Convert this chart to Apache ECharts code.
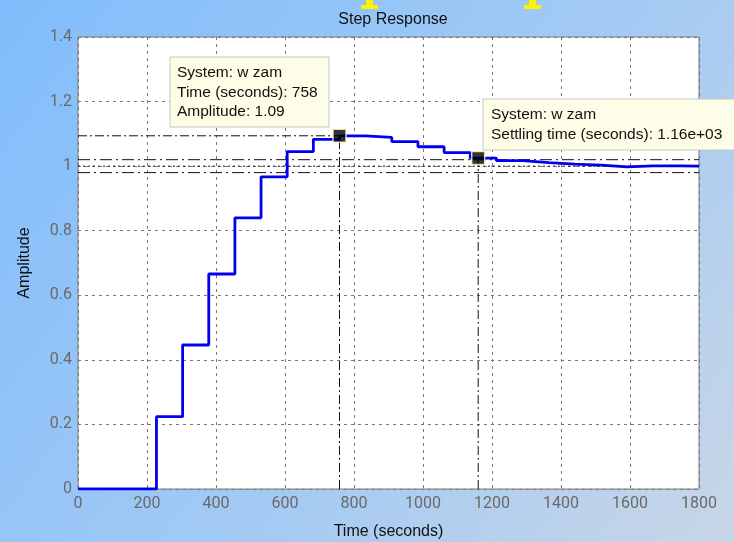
<!DOCTYPE html>
<html>
<head>
<meta charset="utf-8">
<script src="https://cdn.jsdelivr.net/npm/echarts@6/dist/echarts.min.js"></script>
<style>
  html, body { margin: 0; padding: 0; }
  #main { width: 734px; height: 542px; }
</style>
</head>
<body>
<div id="main"></div>
<script type="text/javascript">
    // 采样时刻 (s) 和阶跃响应幅值
    var timeSec = [0, 75.8, 151.6, 227.4, 303.2, 379, 454.8, 530.6, 606.4, 682.2, 758, 833.8,
        909.6, 985.4, 1061.2, 1137, 1212.8, 1288.6, 1364.4, 1440.2, 1516, 1591.8, 1667.6, 1743.4, 1800];
    var amplitude = [0, 0, 0, 0.224, 0.446, 0.666, 0.840, 0.967, 1.045, 1.083, 1.094, 1.089,
        1.076, 1.060, 1.042, 1.025, 1.017, 1.011, 1.006, 1.003, 0.998, 1.001, 1.001, 1.000, 1.000];

    var xTicks = [0, 200, 400, 600, 800, 1000, 1200, 1400, 1600, 1800];
    var yTicks = [0, 0.2, 0.4, 0.6, 0.8, 1, 1.2, 1.4];

    // 峰值点 / 调节时间点
    var peakTime = 758, peakAmp = 1.094;
    var settleTime = 1160, settleAmp = 1.025;
    var finalValue = 1.0, settleUpper = 1.02, settleLower = 0.98;

    var stepData = timeSec.map(function (t, i) { return [t, amplitude[i]]; });

    var dashDot = [9, 3, 2, 3];
    function refLine(points, type) {
        return {
            type: 'line', data: points, symbol: 'none', silent: true,
            lineStyle: { color: '#111', width: 1, type: type }, z: 3
        };
    }

    var myChart = echarts.init(document.getElementById('main'));

    var option = {
        animation: false,
        backgroundColor: new echarts.graphic.LinearGradient(0, 0, 1, 1, [
            { offset: 0, color: '#80bdfc' },
            { offset: 0.6, color: '#a6cbf3' },
            { offset: 1, color: '#c9d6e6' }
        ]),
        title: {
            text: 'Step Response',
            left: 388, top: 7, textAlign: 'center',
            textStyle: { fontFamily: 'Liberation Sans', fontSize: 16, fontWeight: 'normal', color: '#111' }
        },
        grid: {
            left: 78, right: 35, top: 37, bottom: 53,
            outerBoundsMode: 'none',
            show: true, backgroundColor: '#fff', borderColor: '#7a7a7a', borderWidth: 1
        },
        xAxis: {
            type: 'value', min: 0, max: 1800, interval: 200,
            name: 'Time (seconds)', nameLocation: 'middle', nameGap: 35,
            nameTextStyle: { fontFamily: 'Liberation Sans', fontSize: 16, color: '#111' },
            axisLine: { show: false },
            axisTick: { show: false },
            axisLabel: {
                margin: 7, fontFamily: 'Roboto', fontSize: 16, color: '#6a6a6a',
                formatter: function (v) { return xTicks.indexOf(v) >= 0 ? String(v) : ''; }
            },
            splitLine: { show: true, lineStyle: { color: '#777', width: 1, type: [3, 4] } }
        },
        yAxis: {
            type: 'value', min: 0, max: 1.4, interval: 0.2,
            name: 'Amplitude', nameLocation: 'middle', nameGap: 45, nameRotate: 90,
            nameTextStyle: { fontFamily: 'Liberation Sans', fontSize: 16, color: '#111' },
            axisLine: { show: false },
            axisTick: { show: false },
            axisLabel: {
                margin: 6, fontFamily: 'Roboto', fontSize: 16, color: '#6a6a6a',
                formatter: function (v) {
                    var r = Math.round(v * 10) / 10;
                    return yTicks.indexOf(r) >= 0 ? String(r) : '';
                }
            },
            splitLine: { show: true, lineStyle: { color: '#777', width: 1, type: [3, 4] } }
        },
        series: [
            refLine([[0, settleUpper], [1800, settleUpper]], [12, 4, 2, 4]),
            refLine([[0, finalValue], [1800, finalValue]], [2, 3]),
            refLine([[0, settleLower], [1800, settleLower]], [12, 4, 2, 4]),
            refLine([[0, peakAmp], [peakTime, peakAmp]], dashDot),
            refLine([[peakTime, 0], [peakTime, peakAmp]], dashDot),
            refLine([[settleTime, 0], [settleTime, settleAmp]], dashDot),
            {
                name: 'wzam', type: 'line', step: 'end', data: stepData,
                symbol: 'none', lineStyle: { color: '#0000ee', width: 2.8 }, z: 5
            },
            {
                type: 'scatter', symbol: 'rect', symbolSize: 13, z: 6,
                itemStyle: { color: '#000', borderColor: '#fffbd0', borderWidth: 1.5 },
                data: [[peakTime, peakAmp], [settleTime, settleAmp]]
            }
        ],
        graphic: [
            // 顶部被截掉的黄色字母残影
            { type: 'rect', shape: { x: 366, y: 0, width: 7, height: 6 }, style: { fill: '#fff200' } },
            { type: 'rect', shape: { x: 361, y: 5, width: 17, height: 4 }, style: { fill: '#fff200' } },
            { type: 'rect', shape: { x: 529, y: 0, width: 7, height: 6 }, style: { fill: '#fff200' } },
            { type: 'rect', shape: { x: 524, y: 5, width: 17, height: 4 }, style: { fill: '#fff200' } },
            // 数据提示框
            {
                type: 'rect', z: 100,
                shape: { x: 170, y: 57, width: 159, height: 70 },
                style: { fill: '#fdfde8', stroke: '#c8c8c0', lineWidth: 1 }
            },
            {
                type: 'text', z: 101, left: 177, top: 63,
                style: {
                    text: 'System: w zam\nTime (seconds): 758\nAmplitude: 1.09',
                    font: '15.5px "Liberation Sans"', fill: '#111', lineHeight: 19.5
                }
            },
            {
                type: 'rect', z: 100,
                shape: { x: 483, y: 99, width: 252, height: 51 },
                style: { fill: '#fdfde8', stroke: '#c8c8c0', lineWidth: 1 }
            },
            {
                type: 'text', z: 101, left: 491, top: 105,
                style: {
                    text: 'System: w zam\nSettling time (seconds): 1.16e+03',
                    font: '15.5px "Liberation Sans"', fill: '#111', lineHeight: 20
                }
            }
        ]
    };

    myChart.setOption(option);
</script>
</body>
</html>
